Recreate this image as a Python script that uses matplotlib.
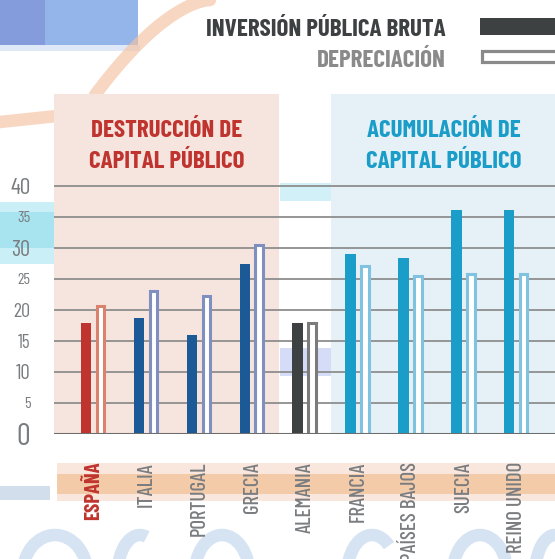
import numpy as np
import matplotlib
matplotlib.use("Agg")
import matplotlib.pyplot as plt
from matplotlib.patches import Rectangle, Arc

plt.rcParams['font.family'] = ['Barlow Condensed', 'Roboto Condensed',
                               'Sofia Sans Condensed', 'DejaVu Sans']

# data
countries = ["ESPAÑA", "ITALIA", "PORTUGAL", "GRECIA", "ALEMANIA",
             "FRANCIA", "PAÍSES BAJOS", "SUECIA", "REINO UNIDO"]
inversion = [17.9, 18.7, 16.0, 27.4, 17.9, 29.0, 28.3, 36.1, 36.1]
depreciacion = [20.6, 23.0, 22.3, 30.5, 17.9, 27.0, 25.4, 25.8, 25.8]
yticks = [0, 5, 10, 15, 20, 25, 30, 35, 40]
ytick_sizes = [22, 11.5, 15, 13.5, 14.5, 11.5, 16, 11.5, 17]

# colours per group
fill_cols = ["#c0342f"] + ["#1b5a97"] * 3 + ["#3d4142"] + ["#1a9dc8"] * 4
edge_cols = ["#d9826d"] + ["#7f8fc0"] * 3 + ["#7b7b7b"] + ["#7fc3e0"] * 4
RED = "#c0342f"
BLUE = "#1a9dc8"
GREY = "#7a7d80"
DARK = "#3d4142"

W, H = 555, 559
fig = plt.figure(figsize=(W / 100, H / 100), dpi=100)

# background decoration layer in pixel coords
bg = fig.add_axes([0, 0, 1, 1], zorder=0)
bg.set_xlim(0, W)
bg.set_ylim(H, 0)
bg.axis("off")
bg.add_patch(Rectangle((0, 0), 45, 45, color="#6f8ad6", alpha=0.85, lw=0))
bg.add_patch(Rectangle((45, 0), 93, 45, color="#80a8e6", alpha=0.85, lw=0))
bg.add_patch(Rectangle((0, 45), 140, 6, color="#d6e3f5", alpha=0.8, lw=0))
t = np.linspace(0, 1, 60)
bg.plot(210 - 115 * t ** 0.8, 0 + 95 * t ** 1.3, color="#f5c2a2", lw=9,
        alpha=0.65, solid_capstyle="round")
bg.plot([0, 95], [122, 112], color="#f5c2a2", lw=9, alpha=0.65)
bg.add_patch(Rectangle((0, 202), 55, 62, color="#8adcec", alpha=0.45, lw=0))
bg.add_patch(Rectangle((0, 212), 55, 36, color="#7dd8ea", alpha=0.45, lw=0))
bg.add_patch(Rectangle((280, 183), 51, 18, color="#bfeaf5", alpha=0.7, lw=0))
bg.add_patch(Rectangle((280, 348), 51, 28, color="#c4cef6", alpha=0.7, lw=0))
bg.add_patch(Rectangle((57, 463), W - 57, 38, color="#f8e2d6", alpha=0.8, lw=0))
bg.add_patch(Rectangle((57, 474), W - 57, 20, color="#f3c6a0", alpha=0.85, lw=0))
bg.add_patch(Rectangle((0, 486), 50, 14, color="#c9d6e8", alpha=0.8, lw=0))
for cx, w, t1, t2 in [(55, 65, 180, 360), (140, 45, 160, 280), (222, 55, 180, 360),
                      (372, 50, 160, 300), (480, 55, 180, 360), (555, 40, 160, 280)]:
    bg.add_patch(Arc((cx, 575), w, 80, theta1=t1, theta2=t2,
                     color="#c4d8ee", lw=9, alpha=0.7))

# main chart
ax = fig.add_axes([54 / W, (H - 434) / H, 1 - 54 / W, 340 / H], zorder=1)
ax.set_facecolor("none")
x = np.arange(len(countries))
ax.set_xlim(-0.745, 8.73)
ax.set_ylim(0, 54.75)

ax.add_patch(Rectangle((-0.745, 0), 4.26, 54.75, color="#f6e4df", lw=0, zorder=0))
ax.add_patch(Rectangle((4.5, 0), 5, 54.75, color="#e5f0f7", lw=0, zorder=0))

for v in yticks[1:]:
    ax.axhline(v, color="#8e8e8e", lw=1.3, zorder=1)
ax.axhline(0, color="#6d6d6d", lw=2.2, zorder=4)

ax.bar(x - 0.136, inversion, width=0.2, color=fill_cols, zorder=3)
ax.bar(x + 0.136, depreciacion, width=0.145, color="white",
       edgecolor=edge_cols, linewidth=2.2, zorder=3)

# section titles (baselines placed one by one)
for cx, col, lines in [(1.39, RED, ["DESTRUCCIÓN DE", "CAPITAL PÚBLICO"]),
                       (6.63, BLUE, ["ACUMULACIÓN DE", "CAPITAL PÚBLICO"])]:
    ax.text(cx, (434 - 136.7) / 6.21, lines[0], ha="center", va="baseline",
            color=col, fontsize=18, fontweight="bold")
    ax.text(cx, (434 - 168.3) / 6.21, lines[1], ha="center", va="baseline",
            color=col, fontsize=18, fontweight="bold")

for s in ax.spines.values():
    s.set_visible(False)
ax.set_yticks(yticks)
ax.set_yticklabels([str(v) for v in yticks])
for lab, fs in zip(ax.get_yticklabels(), ytick_sizes):
    lab.set_fontsize(fs)
    lab.set_color(GREY)
ax.tick_params(axis="y", length=0, pad=17)
ax.set_xticks(x)
ax.set_xticklabels(countries, rotation=90, va="top", ha="center")
for i, lab in enumerate(ax.get_xticklabels()):
    lab.set_fontsize(15)
    lab.set_color(RED if i == 0 else GREY)
    lab.set_fontweight("bold" if i == 0 else "medium")
ax.tick_params(axis="x", length=0, pad=20)

# legend in pixel coords
lg = fig.add_axes([0, 0, 1, 1], zorder=2)
lg.set_xlim(0, W)
lg.set_ylim(H, 0)
lg.axis("off")
lg.text(446, 35.5, "INVERSIÓN PÚBLICA BRUTA", ha="right", va="baseline",
        fontsize=18, fontweight="bold", color=DARK)
lg.text(446, 67, "DEPRECIACIÓN", ha="right", va="baseline",
        fontsize=18, fontweight="bold", color="#8a8a8a")
lg.add_patch(Rectangle((480, 18), 80, 17, color=DARK, lw=0))
lg.add_patch(Rectangle((482, 51), 80, 11, facecolor="white",
                       edgecolor="#8a8a8a", lw=2.3))

fig.savefig("out.png", dpi=100)
